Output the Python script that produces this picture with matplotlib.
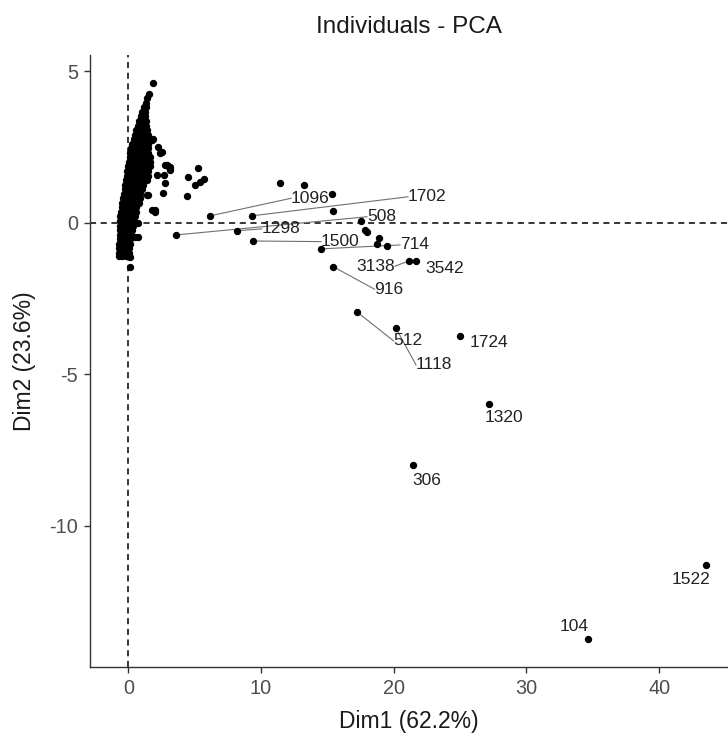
import matplotlib
matplotlib.use("Agg")
import matplotlib.pyplot as plt

plt.rcParams['font.family'] = ['Liberation Sans', 'DejaVu Sans']
plt.rcParams['axes.unicode_minus'] = False

# dense cluster near the origin, one row per Dim2 level
cluster_rows = [
    (-1.12, [-0.70, -0.45, -0.20, -0.05]),
    (-1.00, [-0.68, -0.42, -0.15, 0.02]),
    (-0.85, [-0.68, -0.42, -0.15, 0.08]),
    (-0.70, [-0.68, -0.40, -0.12, 0.12]),
    (-0.55, [-0.66, -0.40, -0.12, 0.15]),
    (-0.40, [-0.66, -0.38, -0.10, 0.20]),
    (-0.25, [-0.66, -0.38, -0.10, 0.18, 0.30]),
    (-0.10, [-0.65, -0.36, -0.08, 0.20, 0.38]),
    (0.05, [-0.63, -0.35, -0.05, 0.22, 0.42]),
    (0.20, [-0.60, -0.32, -0.02, 0.25, 0.50]),
    (0.35, [-0.55, -0.28, 0.00, 0.28, 0.55]),
    (0.50, [-0.50, -0.22, 0.05, 0.32, 0.60]),
    (0.65, [-0.45, -0.18, 0.10, 0.38, 0.65, 0.80]),
    (0.80, [-0.38, -0.10, 0.15, 0.42, 0.70, 0.85]),
    (0.95, [-0.32, -0.05, 0.20, 0.48, 0.75, 0.90]),
    (1.10, [-0.28, 0.00, 0.25, 0.52, 0.80, 1.00]),
    (1.25, [-0.22, 0.05, 0.30, 0.58, 0.85, 1.10]),
    (1.40, [-0.18, 0.08, 0.35, 0.62, 0.90, 1.20, 1.40]),
    (1.55, [-0.12, 0.12, 0.40, 0.68, 0.95, 1.25, 1.45]),
    (1.70, [-0.08, 0.18, 0.45, 0.72, 1.00, 1.30, 1.50]),
    (1.85, [-0.02, 0.22, 0.50, 0.78, 1.05, 1.35, 1.60]),
    (2.00, [0.05, 0.30, 0.55, 0.82, 1.10, 1.40, 1.65]),
    (2.15, [0.10, 0.35, 0.60, 0.88, 1.15, 1.42, 1.60]),
    (2.30, [0.15, 0.40, 0.65, 0.92, 1.20, 1.45]),
    (2.45, [0.20, 0.45, 0.70, 0.95, 1.22, 1.45]),
    (2.60, [0.30, 0.52, 0.75, 1.00, 1.25, 1.45]),
    (2.75, [0.40, 0.60, 0.82, 1.05, 1.28, 1.45]),
    (2.90, [0.50, 0.68, 0.88, 1.10, 1.30, 1.45]),
    (3.05, [0.60, 0.78, 0.95, 1.15, 1.32, 1.40]),
    (3.20, [0.70, 0.88, 1.05, 1.22, 1.35]),
    (3.35, [0.82, 0.98, 1.15, 1.30]),
    (3.50, [0.95, 1.10, 1.25]),
    (3.65, [1.05, 1.22]),
    (3.80, [1.20, 1.30]),
    (3.95, [1.32]),
    (4.10, [1.42]),
    (4.25, [1.52]),
    (4.60, [1.84]),
]

# scattered unlabeled individuals
other_x = [1.89, 2.26, 2.52, 2.89, 2.77, 3.14, 3.00, 3.14, 2.14, 2.71, 2.77, 2.64,
           1.39, 2.00, 1.76, 0.75, 0.50, 0.75, 0.13, 0.13, 2.39, 1.76, 1.46, 2.01,
           5.23, 4.52, 4.45, 5.03, 5.40, 5.73,
           11.43, 13.24, 15.33, 15.45, 17.50, 17.84, 17.97, 18.90, 18.72, 19.52]
other_y = [2.76, 2.50, 2.34, 1.90, 1.90, 1.84, 1.86, 1.73, 1.57, 1.57, 1.29, 0.96,
           0.91, 0.41, 0.41, -0.03, -0.47, -0.47, -1.48, -1.13, 2.28, 2.72, 0.91, 0.36,
           1.79, 1.49, 0.87, 1.24, 1.35, 1.43,
           1.29, 1.25, 0.93, 0.39, 0.06, -0.25, -0.30, -0.50, -0.71, -0.79]

# labeled individuals
lab_names = ["1096", "1702", "508", "1298", "1500", "714", "3138", "3542",
             "916", "512", "1118", "1724", "1320", "306", "1522", "104"]
lab_x = [6.16, 9.30, 3.59, 8.21, 9.42, 14.50, 21.18, 21.66,
         15.45, 17.26, 20.17, 25.00, 27.16, 21.43, 43.50, 34.64]
lab_y = [0.22, 0.22, -0.41, -0.27, -0.61, -0.87, -1.26, -1.26,
         -1.46, -2.96, -3.49, -3.75, -5.99, -8.01, -11.29, -13.75]

# repelled label positions
text_x = [12.26, 21.08, 17.99, 10.05, 14.52, 20.47, 20.10, 22.36,
          18.55, 20.00, 21.68, 25.70, 28.30, 22.50, 42.40, 33.60]
text_y = [0.80, 0.85, 0.19, -0.21, -0.63, -0.74, -1.44, -1.51,
          -2.20, -3.91, -4.70, -3.95, -6.44, -8.50, -11.77, -13.33]
text_ha = ["left", "left", "left", "left", "left", "left", "right", "left",
           "left", "left", "left", "left", "center", "center", "center", "center"]
has_segment = [True, True, True, True, True, True, True, False,
               True, True, True, False, False, False, False, False]

cluster_x = [x for y, xs in cluster_rows for x in xs]
cluster_y = [y for y, xs in cluster_rows for x in xs]

fig = plt.figure(figsize=(7.28, 7.47), dpi=100)
ax = fig.add_axes([0.1236, 0.1071, 0.8764, 0.8193])

ax.axhline(0, color="black", linestyle=(0, (4, 3)), linewidth=1.1, zorder=1)
ax.axvline(0, color="black", linestyle=(0, (4, 3)), linewidth=1.1, zorder=1)

for i in range(len(lab_names)):
    if has_segment[i]:
        ax.plot([lab_x[i], text_x[i]], [lab_y[i], text_y[i]],
                color="#707070", linewidth=0.8, zorder=2)
    ax.text(text_x[i], text_y[i], lab_names[i], ha=text_ha[i], va="center",
            fontsize=12.5, color="#222222", zorder=4)

ax.scatter(cluster_x, cluster_y, s=28, color="black", linewidths=0, zorder=3)
ax.scatter(other_x, other_y, s=28, color="black", linewidths=0, zorder=3)
ax.scatter(lab_x, lab_y, s=28, color="black", linewidths=0, zorder=3)

ax.set_xlim(-2.89, 45.19)
ax.set_ylim(-14.67, 5.53)
ax.set_xticks([0, 10, 20, 30, 40])
ax.set_yticks([-10, -5, 0, 5])

for side in ["top", "right"]:
    ax.spines[side].set_visible(False)
for side in ["left", "bottom"]:
    ax.spines[side].set_color("#333333")
    ax.spines[side].set_linewidth(1.0)
ax.tick_params(axis="both", length=4.5, width=1.0, color="#333333",
               labelcolor="#4d4d4d", labelsize=14.3, pad=4)

ax.set_xlabel("Dim1 (62.2%)", fontsize=16.5, color="#1a1a1a", labelpad=9)
ax.set_ylabel("Dim2 (23.6%)", fontsize=16.5, color="#1a1a1a", labelpad=10)
ax.set_title("Individuals - PCA", fontsize=17.5, color="#1a1a1a", pad=16)

fig.savefig("out.png", dpi=100)
